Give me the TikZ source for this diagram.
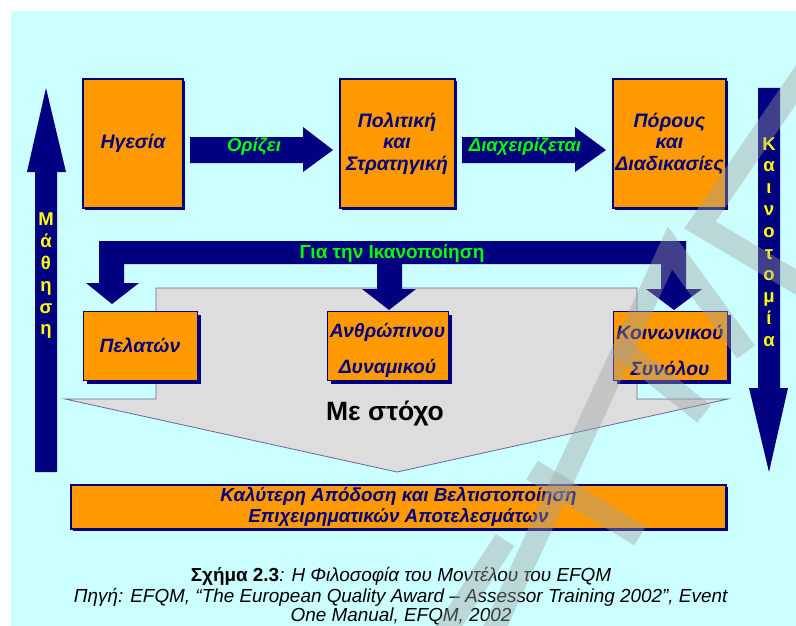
\documentclass[tikz,border=0pt]{standalone}
\usepackage{fontspec}
\setmainfont{Liberation Sans}
\usetikzlibrary{shadows}
\definecolor{navy}{HTML}{000080}
\definecolor{sky}{HTML}{CCFFFF}
\definecolor{amber}{HTML}{FF9900}
\definecolor{leafgreen}{HTML}{00FF00}
\definecolor{panelgray}{HTML}{DDDDDD}
\definecolor{rimblue}{HTML}{6666A0}
\definecolor{signyellow}{HTML}{FFFF00}
\tikzset{
  mainbox/.style={draw=navy, line width=2pt, fill=amber, align=center, text=navy,
    font=\fontsize{19.5}{21.5}\selectfont\bfseries\itshape, inner sep=0pt,
    drop shadow={shadow xshift=2pt, shadow yshift=-2pt, fill=navy, opacity=1}},
  goalbox/.style={draw=navy, line width=0.8pt, fill=amber, inner sep=0pt,
    minimum width=114pt, minimum height=69pt,
    drop shadow={shadow xshift=4pt, shadow yshift=-4pt, fill=navy, opacity=1}},
  goaltext/.style={align=center, text=navy, inner sep=0pt,
    font=\fontsize{19.3}{36}\selectfont\bfseries\itshape},
  fatarrow/.style={fill=navy},
  arrowlabel/.style={text=leafgreen, font=\fontsize{18.5}{20}\selectfont\bfseries\itshape},
  sideletters/.style={text=signyellow, align=center,
    font=\fontsize{18.5}{21.8}\selectfont\bfseries},
  captionline/.style={anchor=base, font=\fontsize{18.9}{22}\selectfont},
  watermark/.style={draw=gray!75, line width=22pt, opacity=0.4}
}
\begin{document}
\begin{tikzpicture}[x=1pt, y=-1pt]
  \useasboundingbox (0,0) rectangle (796,626);
  % page background
  \fill[white] (0,0) rectangle (796,626);
  \fill[sky] (11,11) rectangle (796,626);

  % grey panel pointing down to the goal
  \draw[fill=panelgray, draw=rimblue, line width=0.8pt]
    (156,288) -- (637,288) -- (637,399) -- (728,399) -- (397,472)
    -- (65,399) -- (156,399) -- cycle;
  \node[font=\fontsize{26.5}{28}\selectfont\bfseries] (goal) at (385,413) {Με στόχο};

  % enablers
  \node[mainbox, minimum width=100pt, minimum height=128pt] (lead) at (133,143.5) {Ηγεσία};
  \node[mainbox, minimum width=115pt, minimum height=128pt] (policy) at (397,143.5) {Πολιτική\\και\\Στρατηγική};
  \node[mainbox, minimum width=113pt, minimum height=128pt] (resources) at (669.5,143.5) {Πόρους\\και\\Διαδικασίες};

  % block arrows between the enablers
  \fill[fatarrow] (190,137) -- (303,137) -- (303,127) -- (333,150) -- (303,172)
    -- (303,163) -- (190,163) -- cycle;
  \node[arrowlabel] (sets) at (254,147) {Ορίζει};
  \fill[fatarrow] (462,137) -- (575,137) -- (575,127) -- (606,150) -- (575,172)
    -- (575,163) -- (462,163) -- cycle;
  \node[arrowlabel] (manages) at (525,147) {Διαχειρίζεται};

  % learning and innovation arrows
  \fill[fatarrow] (35,472) -- (35,172) -- (27,172) -- (46,88) -- (66,172)
    -- (57,172) -- (57,472) -- cycle;
  \node[sideletters] (learning) at (46,276) {Μ\\ά\\θ\\η\\σ\\η};
  \fill[fatarrow] (758,88) -- (780,88) -- (780,388) -- (788,388) -- (769,472)
    -- (749,388) -- (758,388) -- cycle;
  \node[sideletters] (innovation) at (769,242) {Κ\\α\\ι\\ν\\ο\\τ\\ο\\μ\\ί\\α};

  % satisfaction bracket with three heads
  \fill[fatarrow] (99,241) -- (686,241) -- (686,289) -- (702,289) -- (674,310)
    -- (646,289) -- (661,289) -- (661,264) -- (402,264) -- (402,289)
    -- (416,289) -- (389,310) -- (362,289) -- (377,289) -- (377,264)
    -- (124,264) -- (124,283) -- (139,283) -- (112,304) -- (86,283)
    -- (99,283) -- cycle;
  \node[text=leafgreen, font=\fontsize{19}{20}\selectfont\bfseries] (satisfaction) at (392,253) {Για την Ικανοποίηση};

  % stakeholders
  \node[goalbox] (customers) at (140,345.5) {};
  \node[goaltext] (customerslabel) at (customers.center) {Πελατών};
  \node[goalbox, minimum width=121pt] (people) at (387.5,345.5) {};
  \node[goaltext] (peoplelabel) at ([yshift=-4.5pt]people.center) {Ανθρώπινου\\Δυναμικού};
  \node[goalbox] (society) at (670,345.5) {};
  \node[goaltext] (societylabel) at ([yshift=-4.5pt]society.center) {Κοινωνικού\\Συνόλου};

  % results
  \node[mainbox, minimum width=655pt, minimum height=44pt,
        font=\fontsize{18.8}{20.5}\selectfont\bfseries\itshape] (results) at (398.5,507)
    {Καλύτερη Απόδοση και Βελτιστοποίηση\\Επιχειρηματικών Αποτελεσμάτων};

  % caption
  \node[captionline] (title) at (401,581) {\textbf{Σχήμα 2.3}\textit{: Η Φιλοσοφία του Μοντέλου του EFQM}};
  \node[captionline] (source) at (401,602) {\textit{Πηγή: EFQM, “The European Quality Award – Assessor Training 2002”, Event}};
  \node[captionline] (manual) at (401,621.5) {\textit{One Manual, EFQM, 2002}};

  % translucent watermark strokes
  \draw[watermark] (489,640) -- (670,248) -- (746,352);
  \draw[watermark] (532,470) -- (640,536);
  \draw[watermark] (618,345) -- (704,414);
  \draw[watermark] (806,70) -- (700,225) -- (806,288);
  \draw[watermark] (505,540) -- (440,640);
\end{tikzpicture}
\end{document}
